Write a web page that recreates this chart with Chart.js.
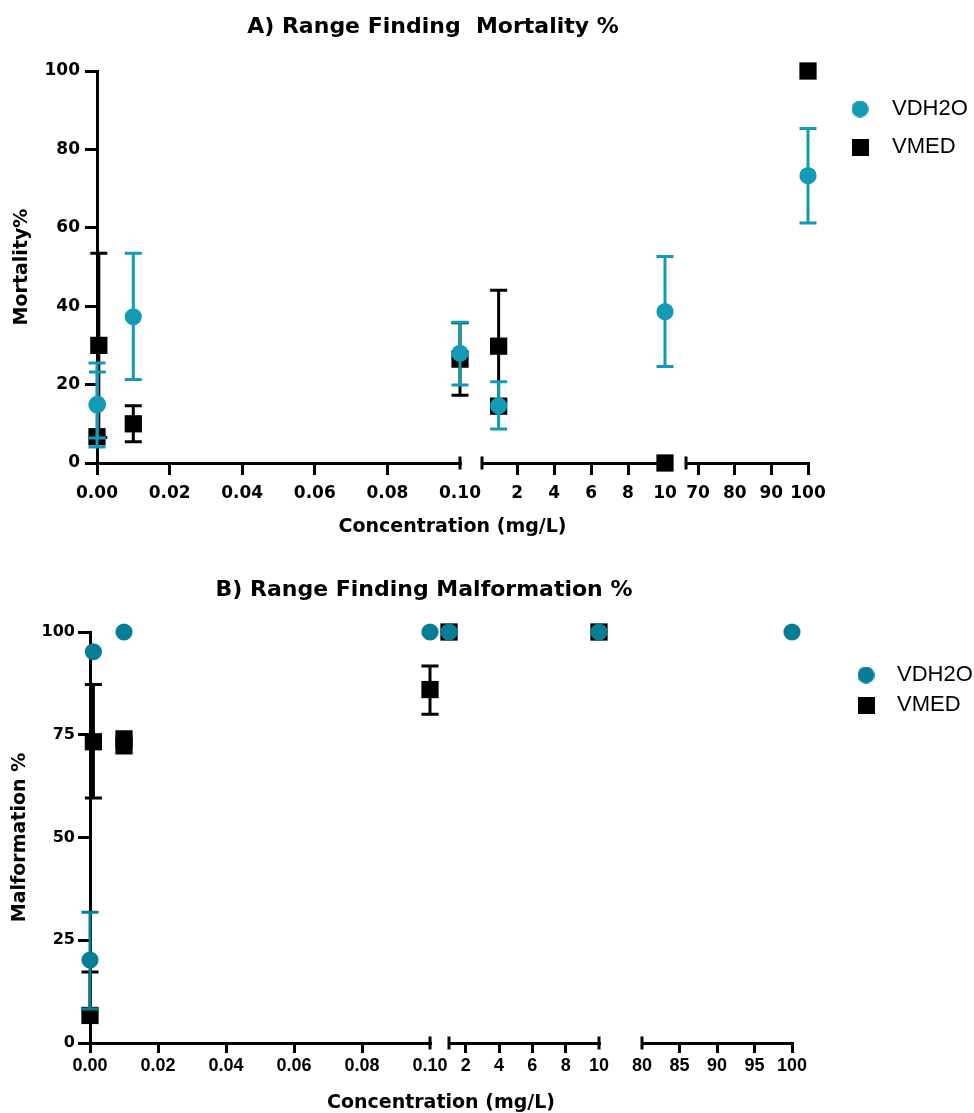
<!DOCTYPE html>
<html>
<head>
<meta charset="utf-8">
<title>Range Finding</title>
<script src="https://cdn.jsdelivr.net/npm/chart.js"></script>
<style>
  html, body { margin: 0; padding: 0; background: #fff; overflow: hidden; }
  .panel { position: absolute; left: 0; width: 974px; }
</style>
</head>
<body>
<div class="panel" style="top:0;height:555px"><canvas id="chartA" width="974" height="555"></canvas></div>
<div class="panel" style="top:555px;height:570px"><canvas id="chartB" width="974" height="570"></canvas></div>
<script>
// ---- values ----
const seriesNames = ['VDH2O', 'VMED'];

// A) mortality
const mortH2OConc = [0, 0.0001, 0.01, 0.1, 1, 10, 100];
const mortH2OMean = [14.8, 15, 37.3, 28, 14.6, 38.6, 73.3];
const mortH2OLow  = [4.1, 6.4, 21.3, 19.9, 8.7, 24.6, 61.2];
const mortH2OHigh = [25.5, 23.2, 53.5, 35.9, 20.7, 52.7, 85.3];
const mortMedConc = [0, 0.0005, 0.01, 0.1, 1, 1, 10, 100];
const mortMedMean = [6.7, 30, 10, 26.5, 29.8, 14.5, 0, 100];
const mortMedLow  = [null, 6.5, 5.4, 17.3, 15.5, null, null, null];
const mortMedHigh = [null, 53.5, 14.6, 35.8, 44.1, null, null, null];
const mortSegMin = [0, 0.1, 66.7];
const mortSegMax = [0.1, 10, 100];
const mortXTicks = [[0, 0.02, 0.04, 0.06, 0.08, 0.1], [2, 4, 6, 8, 10], [70, 80, 90, 100]];
const mortXLabels = [['0.00', '0.02', '0.04', '0.06', '0.08', '0.10'], ['2', '4', '6', '8', '10'], ['70', '80', '90', '100']];
const mortYTicks = [0, 20, 40, 60, 80, 100];

// B) malformation
const malH2OConc = [0, 0.001, 0.01, 0.1, 1, 10, 100];
const malH2OMean = [20.2, 95.2, 100, 100, 100, 100, 100];
const malH2OLow  = [8.3, null, null, null, null, null, null];
const malH2OHigh = [31.8, null, null, null, null, null, null];
const malMedConc = [0, 0.001, 0.01, 0.01, 0.1, 1, 10];
const malMedMean = [6.7, 73.3, 74, 72.3, 86, 100, 100];
const malMedLow  = [null, 59.6, null, null, 80, null, null];
const malMedHigh = [17.3, 87.2, null, null, 91.7, null, null];
const malSegMin = [0, 1, 80];
const malSegMax = [0.1, 10, 100];
const malXTicks = [[0, 0.02, 0.04, 0.06, 0.08, 0.1], [2, 4, 6, 8, 10], [80, 85, 90, 95, 100]];
const malXLabels = [['0.00', '0.02', '0.04', '0.06', '0.08', '0.10'], ['2', '4', '6', '8', '10'], ['80', '85', '90', '95', '100']];
const malYTicks = [0, 25, 50, 75, 100];

Chart.defaults.font.family = "'DejaVu Sans'";
Chart.defaults.color = '#000';

// small canvases used as legend markers
function markerImg(shape, colour) {
    var c = document.createElement('canvas');
    c.width = 17; c.height = 17;
    var g = c.getContext('2d');
    g.fillStyle = colour;
    if (shape === 'circle') {
        g.beginPath(); g.arc(8.5, 8.5, 8.5, 0, Math.PI * 2); g.fill();
    } else {
        g.fillRect(0, 0, 17, 17);
    }
    return c;
}

// put every point into the first x segment that holds it
function splitBySegment(conc, mean, low, high, segMin, segMax) {
    var parts = segMin.map(() => ({ data: [], lo: [], hi: [] }));
    conc.forEach((c, i) => {
        var s = segMin.findIndex((m, k) => c >= m - 1e-9 && c <= segMax[k] + 1e-9);
        parts[s].data.push({ x: c, y: mean[i] });
        parts[s].lo.push(low[i]);
        parts[s].hi.push(high[i]);
    });
    return parts;
}

// error bars, drawn just under each dataset's markers
const errorBars = {
    id: 'errorBars',
    beforeDatasetDraw(chart, args) {
        var ds = chart.data.datasets[args.index];
        if (!ds.errLo) return;
        var ctx = chart.ctx;
        var xs = chart.scales[ds.xAxisID], ys = chart.scales.y;
        ctx.save();
        ctx.strokeStyle = ds.backgroundColor;
        ctx.lineWidth = 3;
        ds.data.forEach((p, i) => {
            var lo = ds.errLo[i], hi = ds.errHi[i];
            if (lo == null && hi == null) return;
            var px = xs.getPixelForValue(p.x);
            var top = ys.getPixelForValue(hi == null ? p.y : hi);
            var bot = ys.getPixelForValue(lo == null ? p.y : lo);
            ctx.beginPath();
            ctx.moveTo(px, top); ctx.lineTo(px, bot);
            if (hi != null) { ctx.moveTo(px - 8.5, top); ctx.lineTo(px + 8.5, top); }
            if (lo != null) { ctx.moveTo(px - 8.5, bot); ctx.lineTo(px + 8.5, bot); }
            ctx.stroke();
        });
        ctx.restore();
    }
};

// short bars where the x axis is broken
const breakMarks = {
    id: 'breakMarks',
    beforeDatasetsDraw(chart) {
        var ctx = chart.ctx;
        var ids = ['x0', 'x1', 'x2'];
        var y = chart.chartArea.bottom;
        ctx.save();
        ctx.strokeStyle = '#000';
        ctx.lineWidth = 3;
        ids.forEach((id, k) => {
            var s = chart.scales[id];
            ctx.beginPath();
            if (k > 0) { ctx.moveTo(s.left, y - 6.5); ctx.lineTo(s.left, y + 6.5); }
            if (k < ids.length - 1) { ctx.moveTo(s.right, y - 6.5); ctx.lineTo(s.right, y + 6.5); }
            ctx.stroke();
        });
        ctx.restore();
    }
};

// panel heading
const panelTitle = {
    id: 'panelTitle',
    afterDraw(chart, args, opts) {
        var ctx = chart.ctx;
        ctx.save();
        ctx.font = "bold 22px 'DejaVu Sans'";
        ctx.fillStyle = '#000';
        ctx.textAlign = 'center';
        ctx.textBaseline = 'middle';
        ctx.fillText(opts.text, opts.x, opts.y);
        ctx.restore();
    }
};

function makePanel(canvasId, p) {
    var h2o = splitBySegment(p.h2o[0], p.h2o[1], p.h2o[2], p.h2o[3], p.segMin, p.segMax);
    var med = splitBySegment(p.med[0], p.med[1], p.med[2], p.med[3], p.segMin, p.segMax);
    var datasets = [];
    // teal first so it sits on top of the black squares
    h2o.forEach((part, k) => datasets.push({
        label: seriesNames[0], xAxisID: 'x' + k, yAxisID: 'y',
        data: part.data, errLo: part.lo, errHi: part.hi,
        backgroundColor: p.colour, pointStyle: 'circle', pointRadius: 8.6,
        pointBorderWidth: 0, showLine: false, clip: false
    }));
    med.forEach((part, k) => datasets.push({
        label: seriesNames[1], xAxisID: 'x' + k, yAxisID: 'y',
        data: part.data, errLo: part.lo, errHi: part.hi,
        backgroundColor: '#000', pointStyle: 'rect', pointRadius: 12.2,
        pointBorderWidth: 0, showLine: false, clip: false
    }));

    var scales = {
        y: {
            type: 'linear', position: 'left', min: 0, max: 100, bounds: 'data',
            afterBuildTicks: s => { s.ticks = p.yTicks.map(v => ({ value: v })); },
            ticks: { font: { size: p.yTickSize, weight: 'bold' }, padding: p.yTickPad, color: '#000' },
            grid: { drawOnChartArea: false, tickLength: 12, tickWidth: 3, lineWidth: 3, tickColor: '#000' },
            border: { color: '#000', width: 3 },
            title: { display: true, text: p.yTitle, color: '#000', font: { size: 19, weight: 'bold' }, padding: { top: p.yTitlePad, bottom: 0 } },
            afterFit: s => { s.width = p.yAxisWidth; }
        },
        yGap: {
            type: 'linear', axis: 'y', position: 'right',
            ticks: { display: false }, grid: { display: false }, border: { display: false },
            afterFit: s => { s.width = p.legendGap; }
        }
    };
    // three axis pieces with two empty gaps between them
    var last = p.segMin.length - 1;
    p.segMin.forEach((mn, k) => {
        var mx = p.segMax[k];
        var ends = [];
        if (k > 0) ends.push(mn);
        if (k < last) ends.push(mx);
        scales['x' + k] = {
            type: 'linear', axis: 'x', position: 'bottom', stack: 'row', stackWeight: p.segWidths[k * 2],
            min: mn, max: mx, bounds: 'data',
            afterBuildTicks: s => { s.ticks = p.xTicks[k].map(v => ({ value: v })); },
            ticks: {
                autoSkip: false, maxRotation: 0, minRotation: 0, padding: p.xTickPad, color: '#000',
                font: p.xTickFont, callback: (v, i) => p.xLabels[k][i]
            },
            grid: {
                drawOnChartArea: false, tickLength: p.xTickLen, tickWidth: 3, lineWidth: 3,
                tickColor: c => (c.tick && ends.some(e => Math.abs(e - c.tick.value) < 1e-9)) ? 'rgba(0,0,0,0)' : '#000'
            },
            border: { color: '#000', width: 3 },
            afterFit: s => { s.height = p.xAxisHeight; }
        };
        if (k < last) {
            scales['gap' + k] = {
                type: 'linear', axis: 'x', position: 'bottom', stack: 'row', stackWeight: p.segWidths[k * 2 + 1],
                ticks: { display: false }, grid: { display: false }, border: { display: false },
                afterFit: s => { s.height = p.xAxisHeight; }
            };
        }
    });

    var ctx = document.getElementById(canvasId).getContext('2d');
    return new Chart(ctx, {
        type: 'scatter',
        data: { datasets: datasets },
        options: {
            responsive: false,
            animation: false,
            devicePixelRatio: 1,
            events: [],
            layout: { padding: p.padding },
            scales: scales,
            plugins: {
                tooltip: { enabled: false },
                title: { display: false },
                subtitle: {
                    display: true, position: 'bottom', fullSize: false, text: 'Concentration (mg/L)',
                    color: '#000', font: { size: 19, weight: 'bold' }, padding: { top: p.xTitlePad, bottom: 0 }
                },
                legend: {
                    display: true, position: 'right', align: 'start', maxWidth: p.legendWidth,
                    title: { display: true, text: '', font: { size: 1, lineHeight: 1 }, padding: { top: p.legendTop, bottom: 0 } },
                    labels: {
                        usePointStyle: true, pointStyleWidth: p.legendBoxWidth, padding: p.legendPad, color: '#000',
                        font: { family: "'Liberation Sans'", size: 22, weight: 'normal' },
                        generateLabels: () => [
                            { text: seriesNames[0], pointStyle: markerImg('circle', p.colour), fillStyle: p.colour, strokeStyle: p.colour, lineWidth: 0, hidden: false },
                            { text: seriesNames[1], pointStyle: markerImg('rect', '#000'), fillStyle: '#000', strokeStyle: '#000', lineWidth: 0, hidden: false }
                        ]
                    }
                },
                panelTitle: p.title
            }
        },
        plugins: [errorBars, breakMarks, panelTitle]
    });
}

makePanel('chartA', {
    title: { text: 'A) Range Finding  Mortality %', x: 433, y: 27 },
    colour: '#139AB4',
    h2o: [mortH2OConc, mortH2OMean, mortH2OLow, mortH2OHigh],
    med: [mortMedConc, mortMedMean, mortMedLow, mortMedHigh],
    segMin: mortSegMin, segMax: mortSegMax,
    segWidths: [363, 22, 183, 21, 122],
    xTicks: mortXTicks, xLabels: mortXLabels, yTicks: mortYTicks,
    yTitle: 'Mortality%', yTitlePad: 10.6, yAxisWidth: 97, yTickSize: 17, yTickPad: 5,
    xTickFont: { size: 17, weight: 'bold' }, xTickPad: 8, xTickLen: 12, xAxisHeight: 48, xTitlePad: 4.6,
    legendGap: 15, legendWidth: 151, legendTop: 10, legendPad: 16, legendBoxWidth: 42,
    padding: { top: 71, left: 0, right: 0, bottom: 16.6 }
});

makePanel('chartB', {
    title: { text: 'B) Range Finding Malformation %', x: 424, y: 35 },
    colour: '#077D96',
    h2o: [malH2OConc, malH2OMean, malH2OLow, malH2OHigh],
    med: [malMedConc, malMedMean, malMedLow, malMedHigh],
    segMin: malSegMin, segMax: malSegMax,
    segWidths: [340, 19, 150, 43, 150],
    xTicks: malXTicks, xLabels: malXLabels, yTicks: malYTicks,
    yTitle: 'Malformation %', yTitlePad: 8.6, yAxisWidth: 90, yTickSize: 16, yTickPad: 3,
    xTickFont: { family: "'Liberation Sans'", size: 18, weight: 'bold' }, xTickPad: 2, xTickLen: 10, xAxisHeight: 40, xTitlePad: 8.6,
    legendGap: 46, legendWidth: 136, legendTop: 23, legendPad: 8, legendBoxWidth: 40,
    padding: { top: 77, left: 0, right: 0, bottom: 10.6 }
});
</script>
</body>
</html>
